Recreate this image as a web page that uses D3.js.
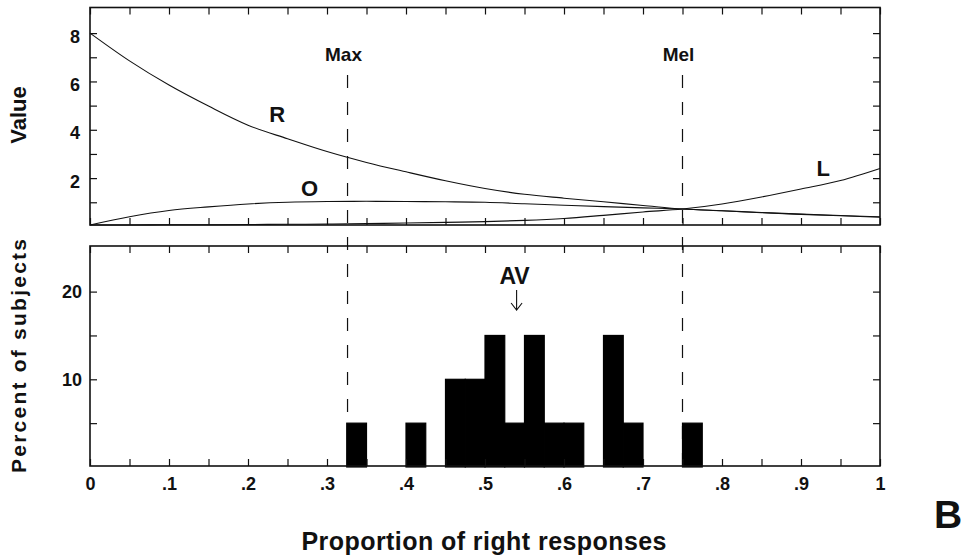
<!DOCTYPE html>
<html><head><meta charset="utf-8">
<script src="https://cdn.jsdelivr.net/npm/d3@7"></script>
<style>
body{margin:0;background:#fff}
text{font-family:"Liberation Sans",Arial,Helvetica,sans-serif;font-weight:bold;fill:#111}
</style>
</head><body><svg id="c" width="966" height="557"></svg>
<script>
// ---- data ----
const xGrid   = [0,0.05,0.1,0.15,0.2,0.25,0.3,0.35,0.4,0.45,0.5,0.55,0.6,0.65,0.7,0.75,0.8,0.85,0.9,0.95,1];
const valueR  = [8.0,6.85,5.85,4.98,4.19,3.63,3.1,2.65,2.26,1.89,1.57,1.33,1.17,1.02,0.87,0.72,0.65,0.58,0.51,0.45,0.4];
const valueO  = [0.06,0.4,0.66,0.81,0.93,1.0,1.03,1.04,1.03,1.02,1.0,0.94,0.88,0.82,0.77,0.72,0.65,0.57,0.5,0.44,0.38];
const valueL  = [0.06,0.06,0.07,0.07,0.08,0.09,0.1,0.12,0.14,0.17,0.2,0.25,0.33,0.46,0.6,0.72,0.93,1.22,1.55,1.9,2.4];
const curveNames = ["R","O","L"];
const curveLabelAt = [[0.237,4.67],[0.278,1.58],[0.928,2.4]];

const binStart   = [0.325,0.4,0.45,0.475,0.5,0.525,0.55,0.575,0.6,0.65,0.675,0.75];
const binPercent = [5,5,10,10,15,5,15,5,5,15,5,5];
const binWidth   = 0.025;

const xTickValues = [0,0.05,0.1,0.15,0.2,0.25,0.3,0.35,0.4,0.45,0.5,0.55,0.6,0.65,0.7,0.75,0.8,0.85,0.9,0.95,1];
const xTickLabels = ["0",".1",".2",".3",".4",".5",".6",".7",".8",".9","1"];
const valueTicks   = [1,2,3,4,5,6,7,8];
const valueLabels  = [2,4,6,8];
const percentTicks = [5,10,15,20];
const percentLabels= [10,20];
const refNames = ["Max","Mel"];
const refX     = [0.326,0.75];
const avName = "AV";
const avX = 0.54;

// ---- layout ----
const svg = d3.select("#c");
const L = 90, R = 880;
const top1 = 7.5, bot1 = 225, top2 = 246, bot2 = 466;
const x = d3.scaleLinear().domain([0,1]).range([L,R]);
const yV = d3.scaleLinear().domain([0.06,9.06]).range([bot1,top1]);
const yP = d3.scaleLinear().domain([0,25.2]).range([467,top2]);

// dashed reference lines
refX.forEach((v,i)=>{
  svg.append("line").attr("x1",x(v)).attr("x2",x(v)).attr("y1",75).attr("y2",bot2)
    .attr("stroke","#111").attr("stroke-width",1.2).attr("stroke-dasharray","13,14");
  svg.append("text").attr("x",x(v)-4).attr("y",61).attr("text-anchor","middle")
    .attr("font-size",19).text(refNames[i]);
});

// curves
const line = d3.line().x((d,i)=>x(xGrid[i])).y(d=>yV(d)).curve(d3.curveMonotoneX);
[valueR,valueO,valueL].forEach(s=>{
  svg.append("path").attr("d",line(s)).attr("fill","none").attr("stroke","#111").attr("stroke-width",1.1);
});
curveNames.forEach((n,i)=>{
  svg.append("text").attr("x",x(curveLabelAt[i][0])).attr("y",yV(curveLabelAt[i][1]))
    .attr("dy","0.36em").attr("text-anchor","middle").attr("font-size",22).text(n);
});

// histogram bars
svg.selectAll("rect.bar").data(binStart).enter().append("rect").attr("class","bar")
  .attr("x",d=>x(d)).attr("width",d=>x(d+binWidth)-x(d))
  .attr("y",(d,i)=>yP(binPercent[i])).attr("height",(d,i)=>yP(0)-yP(binPercent[i]))
  .attr("fill","#000").attr("stroke","#000").attr("stroke-width",1.2);

// frames
[[top1,bot1],[top2,bot2]].forEach(([t,b])=>{
  svg.append("rect").attr("x",L).attr("y",t).attr("width",R-L).attr("height",b-t)
    .attr("fill","none").attr("stroke","#111").attr("stroke-width",1.6);
});

function styleAxis(g){ g.select(".domain").remove(); g.selectAll(".tick line").attr("stroke","#111").attr("stroke-width",1.2); }

// top panel axes
svg.append("g").attr("transform",`translate(0,${bot1})`)
  .call(d3.axisBottom(x).tickValues(xTickValues).tickSize(-7).tickFormat("")).call(styleAxis);
svg.append("g").attr("transform",`translate(0,${top1})`)
  .call(d3.axisTop(x).tickValues(xTickValues).tickSize(-7).tickFormat("")).call(styleAxis);
svg.append("g").attr("transform",`translate(${L},0)`)
  .call(d3.axisLeft(yV).tickValues(valueTicks).tickSize(-7).tickPadding(10)
    .tickFormat(d=>valueLabels.includes(d)?String(d):"")).call(styleAxis)
  .selectAll("text").attr("font-size",18).attr("dy","0.5em");
svg.append("g").attr("transform",`translate(${R},0)`)
  .call(d3.axisRight(yV).tickValues(valueTicks).tickSize(-7).tickFormat("")).call(styleAxis);

// bottom panel axes
svg.append("g").attr("transform",`translate(0,${bot2})`)
  .call(d3.axisBottom(x).tickValues(xTickValues).tickSize(-7).tickPadding(11)
    .tickFormat((d,i)=> i%2===0 ? xTickLabels[i/2] : "")).call(styleAxis)
  .selectAll("text").attr("font-size",18);
svg.append("g").attr("transform",`translate(0,${top2})`)
  .call(d3.axisTop(x).tickValues(xTickValues).tickSize(-7).tickFormat("")).call(styleAxis);
svg.append("g").attr("transform",`translate(${L},0)`)
  .call(d3.axisLeft(yP).tickValues(percentTicks).tickSize(-7).tickPadding(8)
    .tickFormat(d=>percentLabels.includes(d)?String(d):"")).call(styleAxis)
  .selectAll("text").attr("font-size",18);
svg.append("g").attr("transform",`translate(${R},0)`)
  .call(d3.axisRight(yP).tickValues(percentTicks).tickSize(-7).tickFormat("")).call(styleAxis);
svg.selectAll(".tick text").attr("fill","#111").style("font-family","'Liberation Sans',Arial,sans-serif").style("font-weight","bold");

// AV marker
const ax = x(avX);
svg.append("text").attr("x",ax-2).attr("y",284).attr("text-anchor","middle").attr("font-size",23).text(avName);
svg.append("path").attr("d",`M${ax},290 L${ax},310 M${ax-5.5},303 L${ax},310 L${ax+5.5},303`)
  .attr("fill","none").attr("stroke","#111").attr("stroke-width",1.1);

// axis titles
svg.append("text").attr("transform","translate(26,115) rotate(-90)").attr("text-anchor","middle")
  .attr("font-size",22).text("Value");
svg.append("text").attr("transform","translate(26,356) rotate(-90)").attr("text-anchor","middle")
  .attr("font-size",21).attr("textLength",234).attr("lengthAdjust","spacing").text("Percent of subjects");
svg.append("text").attr("x",484).attr("y",550).attr("text-anchor","middle")
  .attr("font-size",25).attr("textLength",365).attr("lengthAdjust","spacing").text("Proportion of right responses");
svg.append("text").attr("x",934).attr("y",528).attr("font-size",39).text("B");
</script></body></html>
